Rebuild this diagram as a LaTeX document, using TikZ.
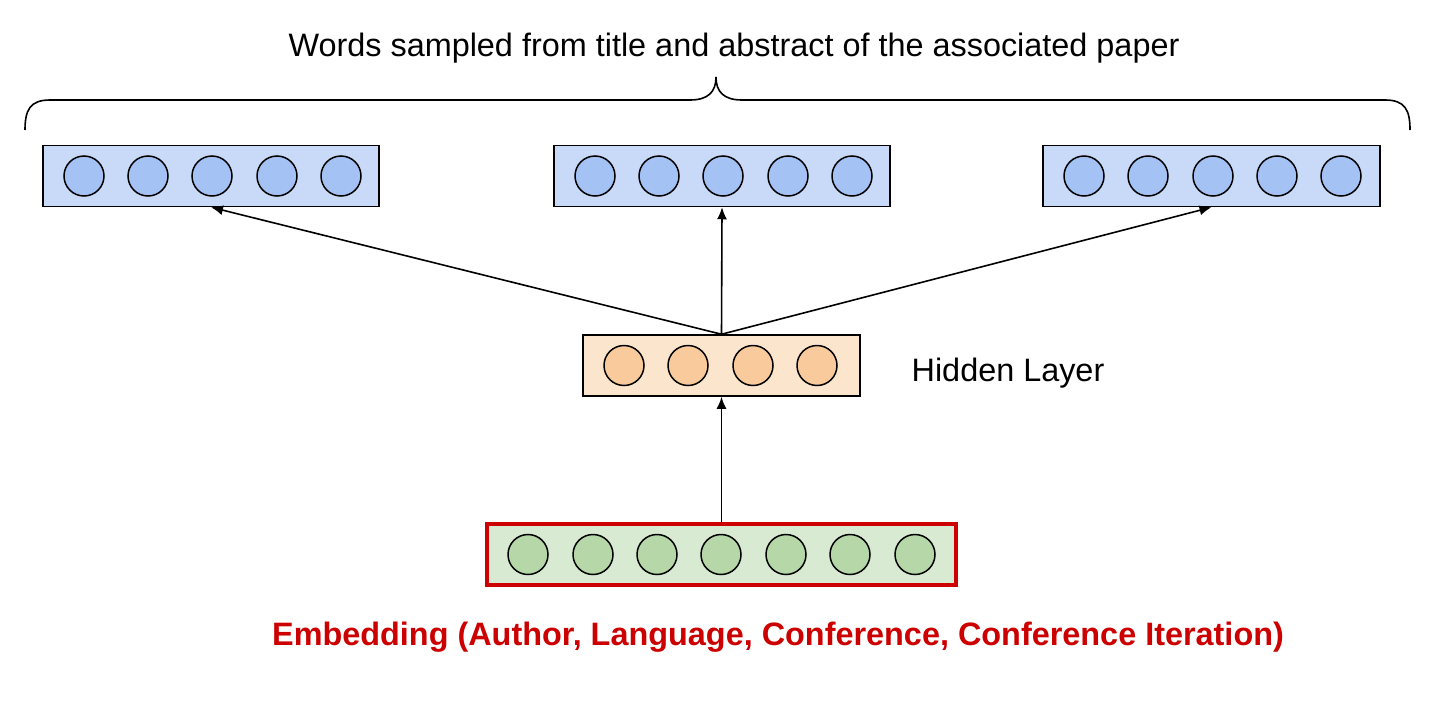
\documentclass[tikz,border=0pt]{standalone}
\usepackage{fontspec}
\setmainfont{Liberation Sans}
\usetikzlibrary{arrows.meta}
\definecolor{bbox}{HTML}{C9DAF8}
\definecolor{bcirc}{HTML}{A4C2F4}
\definecolor{obox}{HTML}{FCE5CD}
\definecolor{ocirc}{HTML}{F9CB9C}
\definecolor{gbox}{HTML}{D9EAD3}
\definecolor{gcirc}{HTML}{B6D7A8}
\definecolor{myred}{HTML}{CC0000}
\tikzset{
  layerbox/.style={draw=black, line width=0.75pt, minimum height=30.5pt, inner sep=0pt, rectangle},
  unit/.style={circle, draw=black, line width=0.75pt, minimum size=20pt, inner sep=0pt},
  conn/.style={line width=0.8pt, -{Latex[length=6pt,width=5pt]}},
  lbl/.style={font=\fontsize{16.2}{19}\selectfont, inner sep=0pt}
}
\begin{document}
\begin{tikzpicture}[x=0.5pt,y=-0.5pt]
\useasboundingbox (0,0) rectangle (1450,712);
% output boxes
\node[layerbox, fill=bbox, minimum width=168pt] (b1) at (211,176) {};
\node[layerbox, fill=bbox, minimum width=168pt] (b2) at (722,176) {};
\node[layerbox, fill=bbox, minimum width=168.5pt] (b3) at (1211.5,176) {};
\foreach \x [count=\i] in {84,148,212,277,341} \node[unit, fill=bcirc] (b1c\i) at (\x,176) {};
\foreach \x [count=\i] in {595,659,723,788,852} \node[unit, fill=bcirc] (b2c\i) at (\x,176) {};
\foreach \x [count=\i] in {1084,1148,1213,1277,1341} \node[unit, fill=bcirc] (b3c\i) at (\x,176) {};
% hidden
\node[layerbox, fill=obox, minimum width=138.5pt] (h) at (721.5,365.5) {};
\foreach \x [count=\i] in {624,688,753,817} \node[unit, fill=ocirc] (hc\i) at (\x,365.5) {};
% embedding
\node[layerbox, draw=myred, line width=2pt, fill=gbox, minimum width=234.5pt] (e) at (721.5,554.5) {};
\foreach \x [count=\i] in {528,593,657,721,786,850,915} \node[unit, fill=gcirc] (ec\i) at (\x,554.5) {};
% connectors
\draw[conn] (h.north) -- (b1.south);
\draw[conn] (h.north) -- (b2.south);
\draw[conn] (h.north) -- (b3.south);
\draw[conn] (e.north) -- (h.south);
% brace
\draw[line width=0.8pt] (25,130) .. controls (25,110) and (30,100) .. (50,100) -- (690,100)
  .. controls (708,100) and (716,92) .. (716,77) .. controls (716,92) and (724,100) .. (742,100)
  -- (1385,100) .. controls (1405,100) and (1410,110) .. (1410,130);
% labels
\node[lbl] (title) at (734,48) {Words sampled from title and abstract of the associated paper};
\node[lbl] (hl) at (1008,373) {Hidden Layer};
\node[lbl, font=\fontsize{16.2}{19}\selectfont\bfseries, text=myred] (el) at (778,637) {Embedding (Author, Language, Conference, Conference Iteration)};
\end{tikzpicture}
\end{document}
